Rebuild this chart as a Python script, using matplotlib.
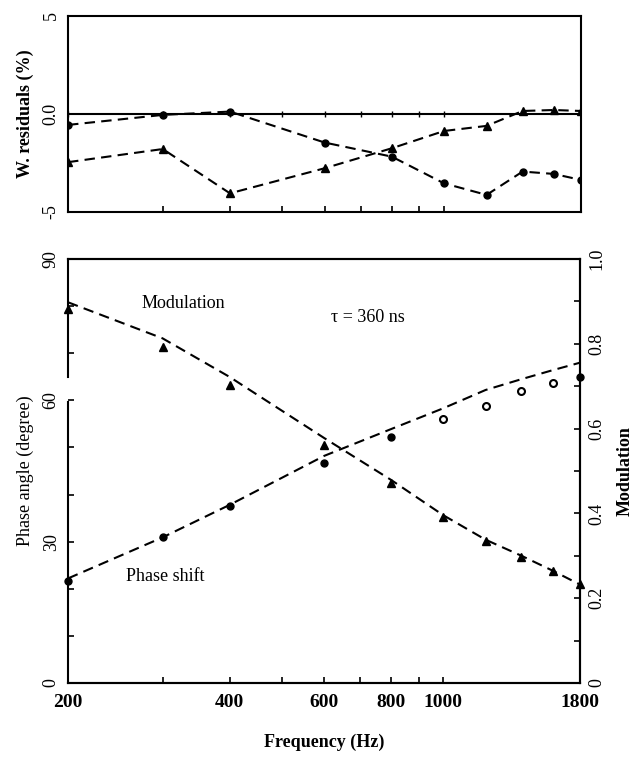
import matplotlib
matplotlib.use("Agg")
import matplotlib.pyplot as plt
from matplotlib.ticker import NullLocator, FixedLocator

plt.rcParams['font.family'] = ['Liberation Serif', 'DejaVu Serif']
plt.rcParams['font.size'] = 13

freqs = [200, 300, 400, 600, 800, 1000, 1200, 1400, 1600, 1800]
phase_data = [21.7, 30.9, 37.6, 46.8, 52.2, 56.0, 58.7, 62.0, 63.7, 65.0]
mod_data = [0.881, 0.793, 0.703, 0.561, 0.471, 0.392, 0.335, 0.298, 0.263, 0.233]
phase_fit = [22.2, 30.9, 37.8, 48.2, 53.9, 58.3, 62.2, 64.5, 66.4, 68.0]
mod_fit = [0.898, 0.813, 0.722, 0.578, 0.479, 0.396, 0.338, 0.300, 0.265, 0.232]
res_phase = [-0.56, -0.05, 0.12, -1.46, -2.18, -3.54, -4.13, -2.94, -3.06, -3.37]
res_mod = [-2.46, -1.79, -4.05, -2.77, -1.75, -0.87, -0.61, 0.15, 0.20, 0.15]
open_pts = [1000, 1200, 1400, 1600]

tick_freqs = [200, 300, 400, 500, 600, 700, 800, 900, 1000, 1800]
tick_labels = ['200', '', '400', '', '600', '', '800', '', '1000', '1800']
zero_marks = [200, 300, 400, 500, 600, 700, 800, 900, 1000, 1800]

dash = (5, 3)

fig = plt.figure(figsize=(6.36, 7.57), dpi=100)

# residuals panel
ax_res = fig.add_axes([0.107, 0.720, 0.807, 0.259])
ax_res.set_xscale('log')
ax_res.plot(zero_marks, [0] * len(zero_marks), color='k', lw=1.5, marker='|', ms=5)
ax_res.plot(freqs, res_phase, color='k', lw=1.5, dashes=dash, marker='o', ms=5)
ax_res.plot(freqs, res_mod, color='k', lw=1.5, dashes=dash, marker='^', ms=6)
ax_res.set_xlim(200, 1800)
ax_res.set_ylim(-5, 5)
ax_res.xaxis.set_major_locator(FixedLocator(tick_freqs[1:-1]))
ax_res.xaxis.set_minor_locator(NullLocator())
ax_res.set_xticklabels([])
ax_res.set_yticks([-5, 0, 5])
ax_res.set_yticklabels(['-5', '0.0', '5'])
ax_res.tick_params(axis='y', length=0, labelrotation=90, pad=6)
ax_res.tick_params(axis='x', direction='in', length=4, width=1.2)
for lab in ax_res.get_yticklabels():
    lab.set_va('center')
ax_res.set_ylabel('W. residuals (%)', labelpad=6, fontweight='bold')
for s in ax_res.spines.values():
    s.set_linewidth(1.5)

# phase / modulation panel
ax = fig.add_axes([0.107, 0.0978, 0.805, 0.560])
ax.set_xscale('log')
ax_mod = ax.twinx()

ax.plot(freqs, phase_fit, color='k', lw=1.5, dashes=dash)
ph_fill = [(f, p) for f, p in zip(freqs, phase_data) if f not in open_pts]
ph_open = [(f, p) for f, p in zip(freqs, phase_data) if f in open_pts]
ax.plot([f for f, p in ph_fill], [p for f, p in ph_fill], 'o', color='k', ms=5, clip_on=False)
ax.plot([f for f, p in ph_open], [p for f, p in ph_open], 'o', color='k', mfc='white', mew=1.5, ms=5)

ax_mod.plot(freqs, mod_fit, color='k', lw=1.5, dashes=dash)
ax_mod.plot(freqs, mod_data, '^', color='k', ms=6, clip_on=False)

ax.set_xlim(200, 1800)
ax.set_ylim(0, 90)
ax_mod.set_ylim(0, 1.0)

ax.xaxis.set_major_locator(FixedLocator(tick_freqs))
ax.xaxis.set_minor_locator(NullLocator())
ax.set_xticklabels(tick_labels, fontweight='bold', fontsize=14)
ax.set_yticks([0, 30, 60, 90])
ax.set_yticklabels(['0', '30', '60', '90'])
ax.set_yticks(range(0, 91, 10), minor=True)
ax_mod.set_yticks([0, 0.2, 0.4, 0.6, 0.8, 1.0])
ax_mod.set_yticklabels(['0', '0.2', '0.4', '0.6', '0.8', '1.0'])
ax_mod.set_yticks([i / 10 for i in range(11)], minor=True)

ax.tick_params(axis='both', which='both', direction='in', length=4, width=1.2)
ax.tick_params(axis='x', pad=8)
ax.tick_params(axis='y', labelrotation=90, pad=6)
ax_mod.tick_params(axis='y', which='both', direction='in', length=4, width=1.2,
                   labelrotation=90, pad=6)
for lab in ax.get_yticklabels() + ax_mod.get_yticklabels():
    lab.set_va('center')

for s in list(ax.spines.values()) + list(ax_mod.spines.values()):
    s.set_linewidth(1.5)
ax.spines['left'].set_visible(False)
ax_mod.spines['left'].set_visible(False)
# broken left spine as in the scan
ax.plot([0, 0], [0, 59.6], color='k', lw=1.5, transform=ax.get_yaxis_transform(), clip_on=False)
ax.plot([0, 0], [65.0, 90], color='k', lw=1.5, transform=ax.get_yaxis_transform(), clip_on=False)

ax.set_ylabel('Phase angle (degree)', labelpad=6)
ax_mod.set_ylabel('Modulation', labelpad=8, fontweight='bold')
ax.set_xlabel('Frequency (Hz)', labelpad=16, fontweight='bold')

ax.text(0.144, 0.894, 'Modulation', transform=ax.transAxes, va='center')
ax.text(0.513, 0.863, 'τ = 360 ns', transform=ax.transAxes, va='center')
ax.text(0.113, 0.251, 'Phase shift', transform=ax.transAxes, va='center')

fig.savefig('out.png', dpi=100)
